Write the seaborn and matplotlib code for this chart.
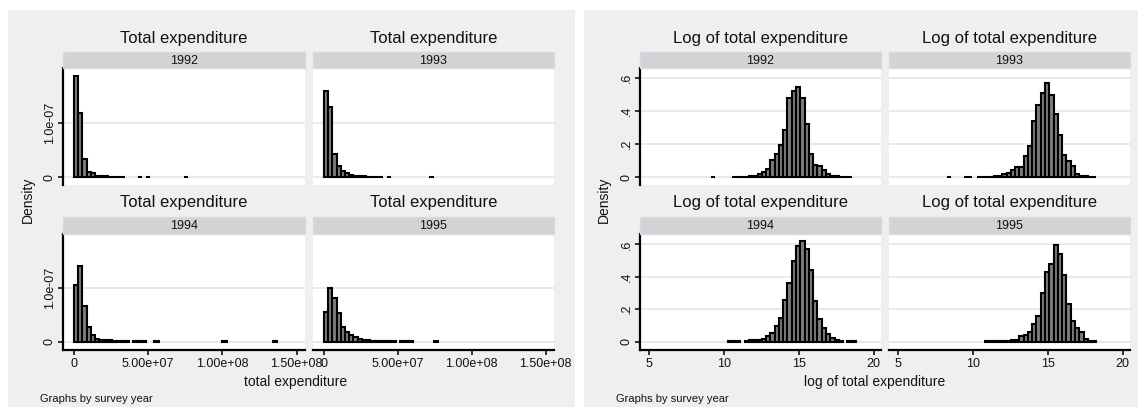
import numpy as np
import pandas as pd
import seaborn as sns
import matplotlib
matplotlib.use("Agg")
import matplotlib.pyplot as plt
from matplotlib.patches import Rectangle

# ---------------- data ----------------
years = [1992, 1993, 1994, 1995]

# histogram bin grids (common to all years, as in Stata's by())
exp_bin_start, exp_bin_width, exp_nbins = 0.2e6, 2.85e6, 48
log_bin_start, log_bin_width, log_nbins = 8.27, 0.285, 37

# total expenditure densities per bin (units of 1e-7)
exp_1992 = [1.88, 1.19, 0.33, 0.105, 0.074, 0.03, 0.022, 0.015, 0.012, 0.01, 0.008, 0.006,
            0, 0, 0, 0.005, 0, 0.005, 0, 0, 0, 0, 0, 0, 0, 0, 0.005, 0, 0, 0, 0, 0,
            0, 0, 0, 0, 0, 0, 0, 0, 0, 0, 0, 0, 0, 0, 0, 0]
exp_1993 = [1.59, 1.30, 0.44, 0.2, 0.12, 0.07, 0.04, 0.03, 0.02, 0.015, 0.01, 0.008,
            0.006, 0.005, 0, 0.005, 0, 0, 0, 0, 0, 0, 0, 0, 0, 0.005, 0, 0, 0, 0, 0, 0,
            0, 0, 0, 0, 0, 0, 0, 0, 0, 0, 0, 0, 0, 0, 0, 0]
exp_1994 = [1.05, 1.41, 0.67, 0.265, 0.12, 0.05, 0.04, 0.035, 0.03, 0.02, 0.015, 0.01,
            0.008, 0, 0.004, 0.004, 0.004, 0, 0, 0.004, 0, 0, 0, 0, 0, 0, 0, 0, 0, 0, 0, 0,
            0, 0, 0, 0.004, 0, 0, 0, 0, 0, 0, 0, 0, 0, 0, 0, 0.004]
exp_1995 = [0.556, 1.0, 0.815, 0.525, 0.265, 0.185, 0.12, 0.08, 0.05, 0.04, 0.035, 0.02,
            0.015, 0.012, 0.01, 0.008, 0.006, 0, 0.004, 0.004, 0.004, 0, 0, 0, 0, 0, 0.004, 0,
            0, 0, 0, 0, 0, 0, 0, 0, 0, 0, 0, 0, 0, 0, 0, 0, 0, 0, 0, 0]

# log of total expenditure densities per bin
log_1992 = [0, 0, 0, 0.003, 0, 0, 0, 0, 0.003, 0.003, 0.004, 0.005, 0.006, 0.01,
            0.022, 0.03, 0.05, 0.106, 0.143, 0.193, 0.287, 0.476, 0.518, 0.542, 0.476,
            0.323, 0.143, 0.076, 0.066, 0.042, 0.022, 0.01, 0.006, 0.005, 0.004, 0.003, 0]
log_1993 = [0.003, 0, 0, 0, 0.003, 0.003, 0, 0.003, 0.003, 0.004, 0.005, 0.006, 0.008,
            0.022, 0.026, 0.042, 0.06, 0.062, 0.126, 0.19, 0.337, 0.434, 0.508, 0.568,
            0.494, 0.381, 0.253, 0.137, 0.096, 0.07, 0.022, 0.01, 0.006, 0.004, 0.003, 0, 0]
log_1994 = [0, 0, 0, 0, 0, 0, 0, 0.003, 0.003, 0.003, 0, 0.006, 0.008, 0.01, 0.01,
            0.015, 0.033, 0.053, 0.095, 0.146, 0.26, 0.36, 0.50, 0.59, 0.62, 0.57, 0.44,
            0.25, 0.14, 0.085, 0.05, 0.025, 0.01, 0.004, 0, 0.003, 0.003]
log_1995 = [0, 0, 0, 0, 0, 0, 0, 0, 0, 0.003, 0.003, 0.003, 0.004, 0.005, 0.006, 0.008,
            0.01, 0.035, 0.04, 0.06, 0.11, 0.16, 0.30, 0.43, 0.48, 0.595, 0.54, 0.41,
            0.235, 0.13, 0.086, 0.06, 0.015, 0.004, 0.003, 0, 0]

exp_series = {1992: exp_1992, 1993: exp_1993, 1994: exp_1994, 1995: exp_1995}
log_series = {1992: log_1992, 1993: log_1993, 1994: log_1994, 1995: log_1995}

exp_xticks = [0, 5e7, 1e8, 1.5e8]
exp_xticklabels = ["0", "5.00e+07", "1.00e+08", "1.50e+08"]
exp_yticks = [0, 1e-7]
exp_yticklabels = ["0", "1.0e-07"]
log_xticks = [5, 10, 15, 20]
log_xticklabels = ["5", "10", "15", "20"]
log_yticks = [0, 0.2, 0.4, 0.6]
log_yticklabels = ["0", ".2", ".4", ".6"]


def build_frame(series, start, width, n, scale):
    edges = start + width * np.arange(n + 1)
    centers = edges[:-1] + width / 2
    rows = []
    for yr, vals in series.items():
        for c, v in zip(centers, vals):
            rows.append({"year": yr, "value": float(c), "density": v * scale})
    return pd.DataFrame(rows), [float(e) for e in edges]


exp_df, exp_edges = build_frame(exp_series, exp_bin_start, exp_bin_width, exp_nbins, 1e-7)
log_df, log_edges = build_frame(log_series, log_bin_start, log_bin_width, log_nbins, 1.0)

# ---------------- figure ----------------
plt.rcParams["font.family"] = ["Liberation Sans", "DejaVu Sans"]
W, H = 1138, 417
fig = plt.figure(figsize=(W / 100, H / 100), dpi=100)
fig.patch.set_facecolor("white")

TXT = "#111111"
PANEL_BG = "#efefef"
STRIP_FC = "#d3d3d3"
STRIP_EC = "#d2dae6"
GRID = "#e3e3e3"


def fig_rect(x0, y0, x1, y1, **kw):
    r = Rectangle((x0 / W, 1 - y1 / H), (x1 - x0) / W, (y1 - y0) / H,
                  transform=fig.transFigure, **kw)
    fig.add_artist(r)
    return r


def fig_text(x, y, s, **kw):
    fig.text(x / W, 1 - y / H, s, color=TXT, **kw)


panels = [
    dict(x0=8, x1=575, cols=[(63, 305), (313, 554)], df=exp_df, edges=exp_edges,
         title="Total expenditure", xlabel="total expenditure", xlabel_x=296,
         xlim=(-7.2e6, 1.556e8), ylims=[(-0.143e-7, 2.024e-7), (-0.154e-7, 1.994e-7)],
         xticks=exp_xticks, xticklabels=exp_xticklabels,
         yticks=exp_yticks, yticklabels=exp_yticklabels),
    dict(x0=584, x1=1138, cols=[(640, 881), (889, 1130)], df=log_df, edges=log_edges,
         title="Log of total expenditure", xlabel="log of total expenditure", xlabel_x=874.5,
         xlim=(4.42, 20.49), ylims=[(-0.046, 0.658), (-0.051, 0.664)],
         xticks=log_xticks, xticklabels=log_xticklabels,
         yticks=log_yticks, yticklabels=log_yticklabels),
]
rows = [(68, 185), (234, 350)]
strips = [(52, 68), (217, 234)]
title_y = [39, 202]

for p in panels:
    fig_rect(p["x0"], 10, p["x1"], 407, facecolor=PANEL_BG, edgecolor="none", zorder=-10)
    for i, yr in enumerate(years):
        r, c = divmod(i, 2)
        cx0, cx1 = p["cols"][c]
        ry0, ry1 = rows[r]
        ax = fig.add_axes([cx0 / W, 1 - ry1 / H, (cx1 - cx0) / W, (ry1 - ry0) / H])
        ax.set_facecolor("white")
        sub = p["df"][p["df"]["year"] == yr]
        sns.histplot(data=sub, x="value", weights="density", bins=p["edges"],
                     stat="count", ax=ax, color="#7d7d7d", edgecolor="black",
                     linewidth=1.5, alpha=1)
        for patch in ax.patches:
            if patch.get_height() == 0:
                patch.set_visible(False)
        ax.set_xlim(*p["xlim"])
        ax.set_ylim(*p["ylims"][r])
        ax.set_xlabel("")
        ax.set_ylabel("")
        ax.set_axisbelow(True)
        ax.set_yticks(p["yticks"])
        ax.set_yticklabels(p["yticklabels"])
        ax.yaxis.grid(True, color=GRID, linewidth=1.1)
        ax.xaxis.grid(False)
        for s in ax.spines.values():
            s.set_visible(False)
        ax.set_xticks(p["xticks"])
        ax.set_xticklabels(p["xticklabels"])
        if c == 0:
            ax.spines["left"].set_visible(True)
            ax.spines["left"].set_linewidth(1.6)
            ax.tick_params(axis="y", length=3.8, width=1.2, pad=1.5, labelsize=9,
                           colors=TXT)
            for lbl in ax.get_yticklabels():
                lbl.set_rotation(90)
                lbl.set_va("center")
        else:
            ax.tick_params(axis="y", left=False, labelleft=False)
        if r == 1:
            ax.spines["bottom"].set_visible(True)
            ax.spines["bottom"].set_linewidth(1.6)
            ax.tick_params(axis="x", length=3.8, width=1.2, pad=2, labelsize=9,
                           colors=TXT)
        else:
            ax.tick_params(axis="x", bottom=False, labelbottom=False)
        # strip and facet title
        sy0, sy1 = strips[r]
        fig_rect(cx0, sy0, cx1, sy1, facecolor=STRIP_FC, edgecolor=STRIP_EC,
                 linewidth=1.0, zorder=2)
        fig_text((cx0 + cx1) / 2, (sy0 + sy1) / 2 + 0.5, str(yr), ha="center",
                 va="center", fontsize=9, zorder=3)
        fig_text((cx0 + cx1) / 2, title_y[r], p["title"], ha="center", va="center",
                 fontsize=12)
    fig_text(p["x0"] + 20, 199.5, "Density", rotation=90, ha="center", va="center",
             fontsize=10)
    fig_text(p["xlabel_x"], 382, p["xlabel"], ha="center", va="center", fontsize=10)
    fig_text(p["x0"] + 32, 399, "Graphs by survey year", ha="left", va="center",
             fontsize=8)

fig.savefig("out.png", dpi=100)
